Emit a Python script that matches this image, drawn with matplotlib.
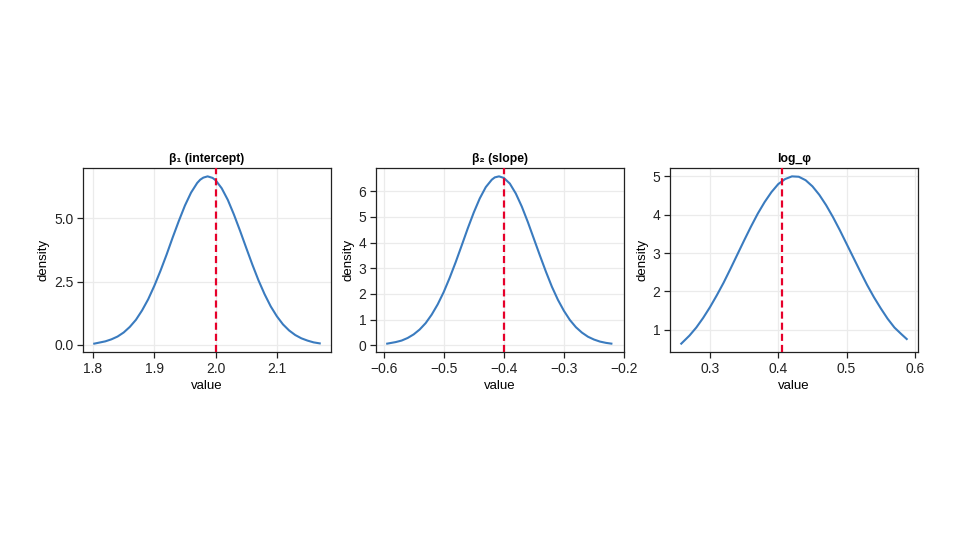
import matplotlib
matplotlib.use("Agg")
import matplotlib.pyplot as plt

plt.rcParams["font.family"] = ["Liberation Sans", "DejaVu Sans"]
plt.rcParams["axes.unicode_minus"] = True

# ---------- posterior density curves ----------
b1_x = [1.802, 1.81, 1.82, 1.83, 1.84, 1.85, 1.86, 1.87, 1.88, 1.89, 1.90, 1.91,
        1.92, 1.93, 1.94, 1.95, 1.96, 1.97, 1.975, 1.98, 1.987, 1.995, 2.00, 2.01,
        2.02, 2.03, 2.04, 2.05, 2.06, 2.07, 2.08, 2.09, 2.10, 2.11, 2.12, 2.13,
        2.14, 2.15, 2.16, 2.170]
b1_y = [0.05, 0.09, 0.14, 0.22, 0.33, 0.49, 0.71, 0.99, 1.36, 1.80, 2.33, 2.92,
        3.56, 4.24, 4.89, 5.50, 6.01, 6.39, 6.52, 6.60, 6.65, 6.59, 6.50, 6.18,
        5.72, 5.14, 4.50, 3.83, 3.17, 2.55, 2.00, 1.52, 1.13, 0.81, 0.57, 0.39,
        0.26, 0.17, 0.10, 0.06]

b2_x = [-0.594, -0.58, -0.57, -0.56, -0.55, -0.54, -0.53, -0.52, -0.51, -0.50,
        -0.49, -0.48, -0.47, -0.46, -0.45, -0.44, -0.43, -0.42, -0.415, -0.408,
        -0.40, -0.39, -0.38, -0.37, -0.36, -0.35, -0.34, -0.33, -0.32, -0.31,
        -0.30, -0.29, -0.28, -0.27, -0.26, -0.25, -0.24, -0.23, -0.221]
b2_y = [0.06, 0.12, 0.18, 0.28, 0.42, 0.61, 0.86, 1.19, 1.59, 2.07,
        2.63, 3.24, 3.89, 4.55, 5.17, 5.72, 6.16, 6.45, 6.54, 6.58,
        6.52, 6.30, 5.91, 5.40, 4.80, 4.15, 3.50, 2.87, 2.28, 1.77,
        1.34, 0.98, 0.70, 0.49, 0.33, 0.22, 0.14, 0.09, 0.06]

phi_x = [0.258, 0.27, 0.28, 0.29, 0.30, 0.31, 0.32, 0.33, 0.34, 0.35, 0.36, 0.37,
         0.38, 0.39, 0.40, 0.41, 0.42, 0.43, 0.44, 0.45, 0.46, 0.47, 0.48, 0.49,
         0.50, 0.51, 0.52, 0.53, 0.54, 0.55, 0.56, 0.57, 0.58, 0.588]
phi_y = [0.64, 0.85, 1.06, 1.31, 1.59, 1.90, 2.23, 2.59, 2.96, 3.33, 3.69, 4.03,
         4.33, 4.59, 4.80, 4.93, 5.00, 4.99, 4.90, 4.74, 4.52, 4.25, 3.94, 3.60,
         3.24, 2.88, 2.52, 2.17, 1.85, 1.56, 1.29, 1.06, 0.89, 0.76]

true_vals = [2.0, -0.4, 0.406]
titles = ["β₁ (intercept)", "β₂ (slope)", "log_φ"]
xticks = [[1.8, 1.9, 2.0, 2.1], [-0.6, -0.5, -0.4, -0.3, -0.2], [0.3, 0.4, 0.5, 0.6]]
yticks = [[0.0, 2.5, 5.0], [0, 1, 2, 3, 4, 5, 6], [1, 2, 3, 4, 5]]
ytick_labels = [["0.0", "2.5", "5.0"], None, None]

curves = [(b1_x, b1_y), (b2_x, b2_y), (phi_x, phi_y)]
lefts = [83 / 960, 376 / 960, 670 / 960]

fig = plt.figure(figsize=(9.6, 5.4), dpi=100)

for i, (xs, ys) in enumerate(curves):
    ax = fig.add_axes([lefts[i], 1 - 352 / 540, 248 / 960, 184 / 540])
    ax.plot(xs, ys, color="#3a7bbf", lw=1.5, zorder=3)
    ax.axvline(true_vals[i], color="#e6002a", lw=1.6, ls=(0, (3.2, 1.8)), zorder=4)

    # 5% autolimit margins like the original
    xr = max(xs) - min(xs)
    yr = max(ys) - min(ys)
    ax.set_xlim(min(xs) - 0.05 * xr, max(xs) + 0.05 * xr)
    ax.set_ylim(min(ys) - 0.05 * yr, max(ys) + 0.05 * yr)

    ax.set_xticks(xticks[i])
    ax.set_yticks(yticks[i])
    if ytick_labels[i] is not None:
        ax.set_yticklabels(ytick_labels[i])
    ax.grid(True, color="#ebebeb", lw=0.9, zorder=0)
    ax.set_axisbelow(True)
    for s in ax.spines.values():
        s.set_linewidth(0.9)
        s.set_color("#222222")
    ax.tick_params(direction="out", length=4, width=0.9, labelsize=10,
                   colors="#222222", pad=3)
    ax.set_title(titles[i], fontsize=8.7, fontweight="bold", pad=4)
    ax.set_xlabel("value", fontsize=9.5, labelpad=3)
    ax.set_ylabel("density", fontsize=9.5, labelpad=3)

fig.savefig("out.png", dpi=100, facecolor="white")
